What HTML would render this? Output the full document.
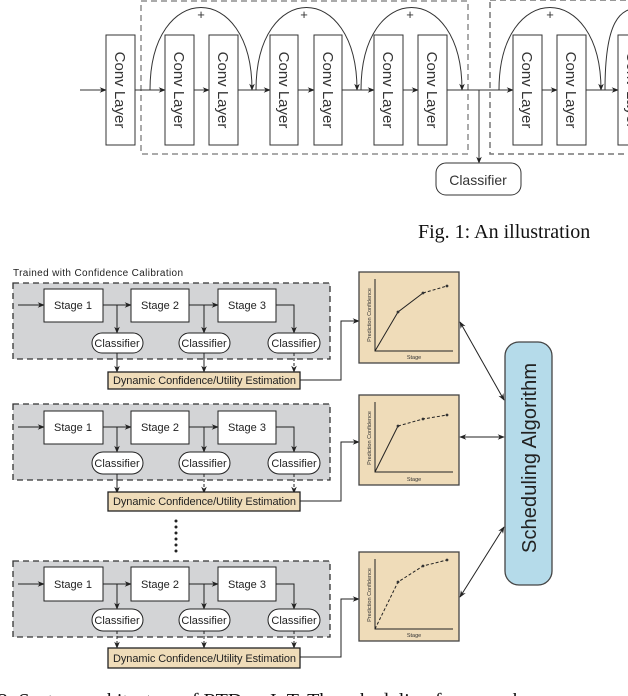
<!DOCTYPE html>
<html><head><meta charset="utf-8"><style>
html,body{margin:0;padding:0;background:#fff;}
svg{display:block;font-family:"Liberation Sans",sans-serif;}
</style></head><body>
<svg width="628" height="696" viewBox="0 0 628 696" xmlns="http://www.w3.org/2000/svg">
<defs>
<marker id="a" viewBox="0 0 10 10" refX="9" refY="5" markerWidth="7" markerHeight="7" orient="auto-start-reverse"><path d="M0,1 L10,5 L0,9 L3,5 z" fill="#222"/></marker>
</defs>
<g stroke="#333" stroke-width="1" fill="none">
<rect x="141" y="1" width="327" height="153" stroke-dasharray="6,4" stroke="#555"/>
<rect x="490" y="0" width="150" height="154" stroke-dasharray="6,4" stroke="#777" stroke-width="1.5"/>
<line x1="80" y1="90" x2="106" y2="90" marker-end="url(#a)"/>
<line x1="135" y1="90" x2="165" y2="90" marker-end="url(#a)"/>
<line x1="194" y1="90" x2="209" y2="90" marker-end="url(#a)"/>
<line x1="238" y1="90" x2="270" y2="90" marker-end="url(#a)"/>
<line x1="298" y1="90" x2="314" y2="90" marker-end="url(#a)"/>
<line x1="342" y1="90" x2="374" y2="90" marker-end="url(#a)"/>
<line x1="403" y1="90" x2="418" y2="90" marker-end="url(#a)"/>
<line x1="447" y1="90" x2="513" y2="90" marker-end="url(#a)"/>
<line x1="542" y1="90" x2="557" y2="90" marker-end="url(#a)"/>
<line x1="586" y1="90" x2="618" y2="90" marker-end="url(#a)"/>
<line x1="479" y1="90" x2="479" y2="163" marker-end="url(#a)"/>
<path d="M150,90 C150,-20 252,-20 252,90" marker-end="url(#a)"/>
<path d="M256,90 C256,-20 357,-20 357,90" marker-end="url(#a)"/>
<path d="M361,90 C361,-20 462,-20 462,90" marker-end="url(#a)"/>
<path d="M499,90 C499,-20 601,-20 601,90" marker-end="url(#a)"/>
<path d="M605,90 C605,20 620,8 640,8"/>
</g>
<g fill="#fff" stroke="#333">
<rect x="106" y="35" width="29" height="110"/>
<rect x="165" y="35" width="29" height="110"/>
<rect x="209" y="35" width="29" height="110"/>
<rect x="270" y="35" width="28" height="110"/>
<rect x="314" y="35" width="28" height="110"/>
<rect x="374" y="35" width="29" height="110"/>
<rect x="418" y="35" width="29" height="110"/>
<rect x="513" y="35" width="29" height="110"/>
<rect x="557" y="35" width="29" height="110"/>
<rect x="618" y="35" width="29" height="110"/>
<rect x="436" y="163" width="85" height="32" rx="10"/>
</g>
<g font-size="15" fill="#333" text-anchor="middle">
<text transform="translate(115,90) rotate(90)">Conv Layer</text>
<text transform="translate(174,90) rotate(90)">Conv Layer</text>
<text transform="translate(218,90) rotate(90)">Conv Layer</text>
<text transform="translate(279,90) rotate(90)">Conv Layer</text>
<text transform="translate(323,90) rotate(90)">Conv Layer</text>
<text transform="translate(383,90) rotate(90)">Conv Layer</text>
<text transform="translate(427,90) rotate(90)">Conv Layer</text>
<text transform="translate(522,90) rotate(90)">Conv Layer</text>
<text transform="translate(566,90) rotate(90)">Conv Layer</text>
<text transform="translate(627,90) rotate(90)">Conv Layer</text>
<text x="478" y="185" font-size="14">Classifier</text>
<text x="201" y="19" font-size="13">+</text>
<text x="304" y="19" font-size="13">+</text>
<text x="410" y="19" font-size="13">+</text>
<text x="550" y="19" font-size="13">+</text>
</g>
<text x="418" y="238" font-family="Liberation Serif,serif" font-size="20" fill="#111">Fig. 1: An illustration</text>

<text x="13" y="276" font-size="10" fill="#222" textLength="170">Trained with Confidence Calibration</text>

<g font-size="11" fill="#222">
<g transform="translate(0,283)">
<rect x="13" y="0" width="317" height="76" fill="#d3d4d6" stroke="#333" stroke-width="1.3" stroke-dasharray="6,4"/>
<g stroke="#222" fill="none">
<line x1="18" y1="22" x2="44" y2="22" marker-end="url(#a)"/>
<line x1="103" y1="22" x2="131" y2="22" marker-end="url(#a)"/>
<line x1="189" y1="22" x2="218" y2="22" marker-end="url(#a)"/>
<line x1="117" y1="22" x2="117" y2="50" marker-end="url(#a)"/>
<line x1="204" y1="22" x2="204" y2="50" marker-end="url(#a)"/>
<path d="M276,22 H294 V50" marker-end="url(#a)"/>
<line x1="117" y1="70" x2="117" y2="89" marker-end="url(#a)"/>
<line x1="204" y1="70" x2="204" y2="89" marker-end="url(#a)"/>
<line x1="294" y1="70" x2="294" y2="89" marker-end="url(#a)" stroke-dasharray="3,2"/>
<path d="M300,97 H341 V38 H359" marker-end="url(#a)"/>
</g>
<g fill="#fff" stroke="#222">
<rect x="44" y="6" width="59" height="33"/><rect x="131" y="6" width="58" height="33"/><rect x="218" y="6" width="58" height="33"/>
<rect x="92" y="50" width="51" height="20" rx="10"/><rect x="179" y="50" width="51" height="20" rx="10"/><rect x="268" y="50" width="52" height="20" rx="10"/>
<rect x="108" y="89" width="192" height="17" fill="#efdcb9" stroke-width="1.3"/>
</g>
<g text-anchor="middle"><text x="73" y="26">Stage 1</text><text x="160" y="26">Stage 2</text><text x="247" y="26">Stage 3</text>
<text x="117" y="64">Classifier</text><text x="204" y="64">Classifier</text><text x="294" y="64">Classifier</text></g>
<text x="113" y="101" textLength="183" font-size="11">Dynamic Confidence/Utility Estimation</text>
</g>
<g transform="translate(0,404)">
<rect x="13" y="0" width="317" height="76" fill="#d3d4d6" stroke="#333" stroke-width="1.3" stroke-dasharray="6,4"/>
<g stroke="#222" fill="none">
<line x1="18" y1="23" x2="44" y2="23" marker-end="url(#a)"/>
<line x1="103" y1="23" x2="131" y2="23" marker-end="url(#a)"/>
<line x1="189" y1="23" x2="218" y2="23" marker-end="url(#a)"/>
<line x1="117" y1="23" x2="117" y2="48" marker-end="url(#a)"/>
<line x1="204" y1="23" x2="204" y2="48" marker-end="url(#a)"/>
<path d="M276,23 H294 V48" marker-end="url(#a)"/>
<line x1="117" y1="70" x2="117" y2="89" marker-end="url(#a)"/>
<line x1="204" y1="70" x2="204" y2="89" marker-end="url(#a)" stroke-dasharray="3,2"/>
<line x1="294" y1="70" x2="294" y2="89" marker-end="url(#a)" stroke-dasharray="3,2"/>
<path d="M300,97 H341 V38 H359" marker-end="url(#a)"/>
</g>
<g fill="#fff" stroke="#222">
<rect x="44" y="7" width="59" height="33"/><rect x="131" y="7" width="58" height="33"/><rect x="218" y="7" width="58" height="33"/>
<rect x="92" y="48" width="51" height="22" rx="11"/><rect x="179" y="48" width="51" height="22" rx="11"/><rect x="268" y="48" width="52" height="22" rx="11"/>
<rect x="108" y="88" width="192" height="19" fill="#efdcb9" stroke-width="1.3"/>
</g>
<g text-anchor="middle"><text x="73" y="27">Stage 1</text><text x="160" y="27">Stage 2</text><text x="247" y="27">Stage 3</text>
<text x="117" y="63">Classifier</text><text x="204" y="63">Classifier</text><text x="294" y="63">Classifier</text></g>
<text x="113" y="101" textLength="183" font-size="11">Dynamic Confidence/Utility Estimation</text>
</g>
<g transform="translate(0,561)">
<rect x="13" y="0" width="317" height="76" fill="#d3d4d6" stroke="#333" stroke-width="1.3" stroke-dasharray="6,4"/>
<g stroke="#222" fill="none">
<line x1="18" y1="23" x2="44" y2="23" marker-end="url(#a)"/>
<line x1="103" y1="23" x2="131" y2="23" marker-end="url(#a)"/>
<line x1="189" y1="23" x2="218" y2="23" marker-end="url(#a)"/>
<line x1="117" y1="23" x2="117" y2="48" marker-end="url(#a)"/>
<line x1="204" y1="23" x2="204" y2="48" marker-end="url(#a)"/>
<path d="M276,23 H294 V48" marker-end="url(#a)"/>
<line x1="117" y1="70" x2="117" y2="87" marker-end="url(#a)" stroke-dasharray="3,2"/>
<line x1="204" y1="70" x2="204" y2="87" marker-end="url(#a)" stroke-dasharray="3,2"/>
<line x1="294" y1="70" x2="294" y2="87" marker-end="url(#a)" stroke-dasharray="3,2"/>
<path d="M300,96 H341 V38 H359" marker-end="url(#a)"/>
</g>
<g fill="#fff" stroke="#222">
<rect x="44" y="6" width="59" height="34"/><rect x="131" y="6" width="58" height="34"/><rect x="218" y="6" width="58" height="34"/>
<rect x="92" y="48" width="51" height="22" rx="11"/><rect x="179" y="48" width="51" height="22" rx="11"/><rect x="268" y="48" width="52" height="22" rx="11"/>
<rect x="108" y="87" width="192" height="20" fill="#efdcb9" stroke-width="1.3"/>
</g>
<g text-anchor="middle"><text x="73" y="27">Stage 1</text><text x="160" y="27">Stage 2</text><text x="247" y="27">Stage 3</text>
<text x="117" y="63">Classifier</text><text x="204" y="63">Classifier</text><text x="294" y="63">Classifier</text></g>
<text x="113" y="101" textLength="183" font-size="11">Dynamic Confidence/Utility Estimation</text>
</g>
</g>

<g fill="#222"><circle cx="176" cy="521" r="1.5"/><circle cx="176" cy="527" r="1.5"/><circle cx="176" cy="533" r="1.5"/><circle cx="176" cy="539" r="1.5"/><circle cx="176" cy="545" r="1.5"/><circle cx="176" cy="551" r="1.5"/></g>

<g font-size="5.5" fill="#333">
<g transform="translate(359,272)">
<rect x="0" y="0" width="100" height="91" fill="#efdcb9" stroke="#444" stroke-width="1.3"/>
<path d="M16,7 V79 H94" stroke="#222" fill="none"/>
<path d="M16,79 L39,40 L64,21" stroke="#222" fill="none"/>
<path d="M64,21 L88,14" stroke="#222" fill="none" stroke-dasharray="3,2"/>
<circle cx="39" cy="40" r="1.4"/><circle cx="64" cy="21" r="1.4"/><circle cx="88" cy="14" r="1.4"/>
<text x="55" y="87" text-anchor="middle">Stage</text>
<text transform="translate(12,43) rotate(-90)" text-anchor="middle">Prediction Confidence</text>
</g>
<g transform="translate(359,395)">
<rect x="0" y="0" width="100" height="90" fill="#efdcb9" stroke="#444" stroke-width="1.3"/>
<path d="M16,7 V77 H94" stroke="#222" fill="none"/>
<path d="M16,77 L39,31" stroke="#222" fill="none"/>
<path d="M39,31 L64,24 L88,20" stroke="#222" fill="none" stroke-dasharray="3,2"/>
<circle cx="39" cy="31" r="1.4"/><circle cx="64" cy="24" r="1.4"/><circle cx="88" cy="20" r="1.4"/>
<text x="55" y="86" text-anchor="middle">Stage</text>
<text transform="translate(12,43) rotate(-90)" text-anchor="middle">Prediction Confidence</text>
</g>
<g transform="translate(359,552)">
<rect x="0" y="0" width="100" height="89" fill="#efdcb9" stroke="#444" stroke-width="1.3"/>
<path d="M16,7 V77 H94" stroke="#222" fill="none"/>
<path d="M16,77 L39,30 L64,14 L88,8" stroke="#222" fill="none" stroke-dasharray="3,2"/>
<circle cx="39" cy="30" r="1.4"/><circle cx="64" cy="14" r="1.4"/><circle cx="88" cy="8" r="1.4"/>
<text x="55" y="85" text-anchor="middle">Stage</text>
<text transform="translate(12,43) rotate(-90)" text-anchor="middle">Prediction Confidence</text>
</g>
</g>

<g stroke="#222" fill="none">
<line x1="460" y1="322" x2="504" y2="400" marker-start="url(#a)" marker-end="url(#a)"/>
<line x1="460" y1="437" x2="504" y2="437" marker-start="url(#a)" marker-end="url(#a)"/>
<line x1="460" y1="597" x2="504" y2="527" marker-start="url(#a)" marker-end="url(#a)"/>
</g>
<rect x="505" y="342" width="47" height="243" rx="14" fill="#b5dbea" stroke="#444" stroke-width="1.3"/>
<text transform="translate(536,458) rotate(-90)" text-anchor="middle" font-size="20" fill="#222" textLength="190">Scheduling Algorithm</text>

<text x="-2" y="707" font-family="Liberation Serif,serif" font-size="20" fill="#111">2: System architecture of RTDeepIoT. The scheduling framework</text>
</svg>
</body></html>
